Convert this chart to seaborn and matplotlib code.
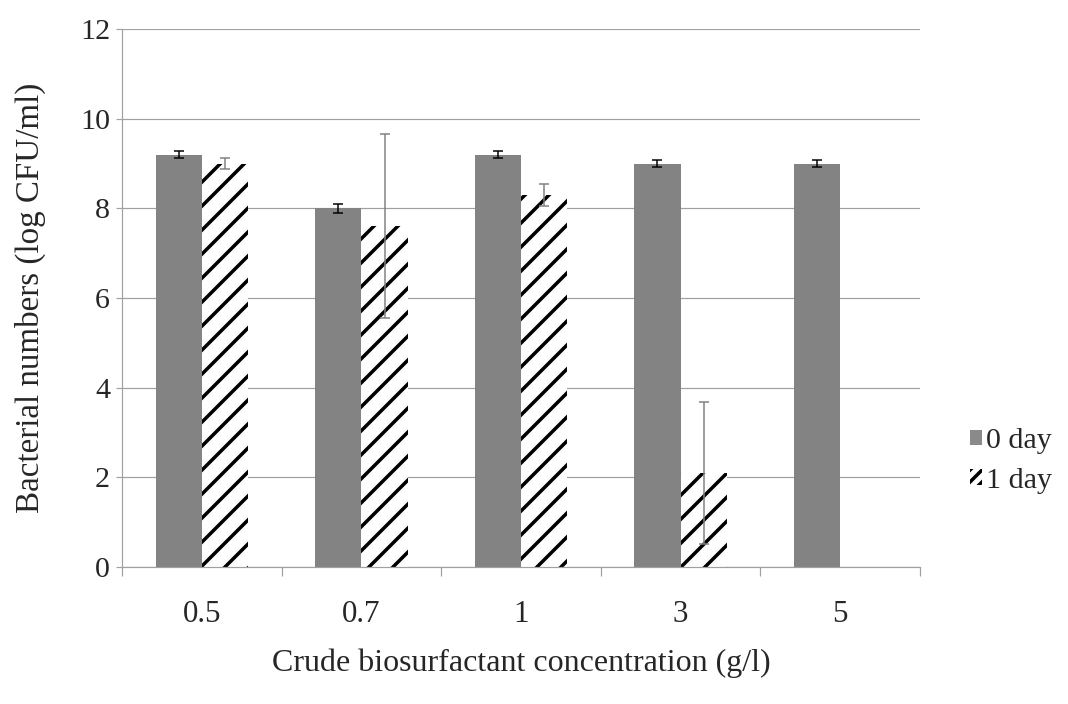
import numpy as np
import pandas as pd
import matplotlib
matplotlib.use("Agg")
import matplotlib.pyplot as plt
import seaborn as sns
from matplotlib.patches import Patch
from matplotlib.ticker import FixedLocator

concentrations = ["0.5", "0.7", "1", "3", "5"]
day0 = [9.2, 8.0, 9.2, 9.0, 9.0]
day0_err = [0.08, 0.1, 0.07, 0.08, 0.07]
day1 = [9.0, 7.6, 8.3, 2.1, 0.0]
day1_err = [0.12, 2.05, 0.25, 1.58, np.nan]
series = ["0 day", "1 day"]

df = pd.DataFrame({
    "conc": concentrations * 2,
    "value": day0 + day1,
    "day": [series[0]] * 5 + [series[1]] * 5,
})

sns.set_style("white")
plt.rcParams["font.family"] = ["Liberation Serif", "DejaVu Serif"]
plt.rcParams["hatch.linewidth"] = 3.5

dpi = 72
fig = plt.figure(figsize=(1068 / dpi, 704 / dpi), dpi=dpi)
ax = fig.add_axes([122 / 1068, 1 - 567 / 704, 798 / 1068, 538 / 704])

sns.barplot(data=df, x="conc", y="value", hue="day", order=concentrations,
            hue_order=series, palette=["#8a8a8a", "white"], width=0.58,
            errorbar=None, legend=False, ax=ax, zorder=2)

# 0 day: fine dotted grey texture, 1 day: thick black diagonals
styles = [dict(fc="#d2d2d2", hatch="++++++", ec="#505050", hlw=0.6),
          dict(fc="white", hatch="/", ec="black", hlw=3.5)]
errs = [day0_err, day1_err]
err_colors = ["black", "#808080"]
for cont, st, err, ecol in zip(ax.containers, styles, errs, err_colors):
    xs, ys = [], []
    for bar in cont:
        bar.set_facecolor(st["fc"])
        bar.set_edgecolor(st["ec"])
        bar.set_linewidth(0)
        bar.set_hatch(st["hatch"])
        if hasattr(bar, "set_hatch_linewidth"):
            bar.set_hatch_linewidth(st["hlw"])
        xs.append(bar.get_x() + bar.get_width() / 2)
        ys.append(bar.get_height())
    ax.errorbar(xs, ys, yerr=err, fmt="none", ecolor=ecol, elinewidth=1.5,
                capsize=5, capthick=1.5, zorder=3)

ax.set_ylim(0, 12)
ax.set_yticks(np.arange(0, 13, 2))
ax.set_xlim(-0.5, 4.5)
ax.yaxis.grid(True, color="#a0a0a0", linewidth=1.2, zorder=0)
ax.set_axisbelow(True)
for s in ["top", "right"]:
    ax.spines[s].set_visible(False)
for s in ["left", "bottom"]:
    ax.spines[s].set_color("#a0a0a0")
    ax.spines[s].set_linewidth(1.2)

ax.xaxis.set_minor_locator(FixedLocator(np.arange(-0.5, 5, 1)))
ax.tick_params(axis="x", which="major", length=0, pad=33, labelsize=31)
ax.tick_params(axis="x", which="minor", length=9, width=1.2, color="#a0a0a0",
               direction="out", bottom=True)
ax.tick_params(axis="y", which="major", length=6, width=1.2, color="#a0a0a0",
               direction="out", left=True, pad=6, labelsize=30)

ax.set_xlabel("Crude biosurfactant concentration (g/l)", fontsize=32, labelpad=20)
ax.set_ylabel("Bacterial numbers (log CFU/ml)", fontsize=33, labelpad=34)

handles = [Patch(facecolor="#8a8a8a", edgecolor="none", label=series[0]),
           Patch(facecolor="white", edgecolor="black", hatch="//", linewidth=0,
                 label=series[1])]
fig.legend(handles=handles, loc="center left", bbox_to_anchor=(943 / 1068, 1 - 461 / 704),
           frameon=False, fontsize=30, handlelength=0.4, handleheight=0.4,
           handletextpad=0.15, labelspacing=0.45)

fig.savefig("out.png", dpi=dpi)
